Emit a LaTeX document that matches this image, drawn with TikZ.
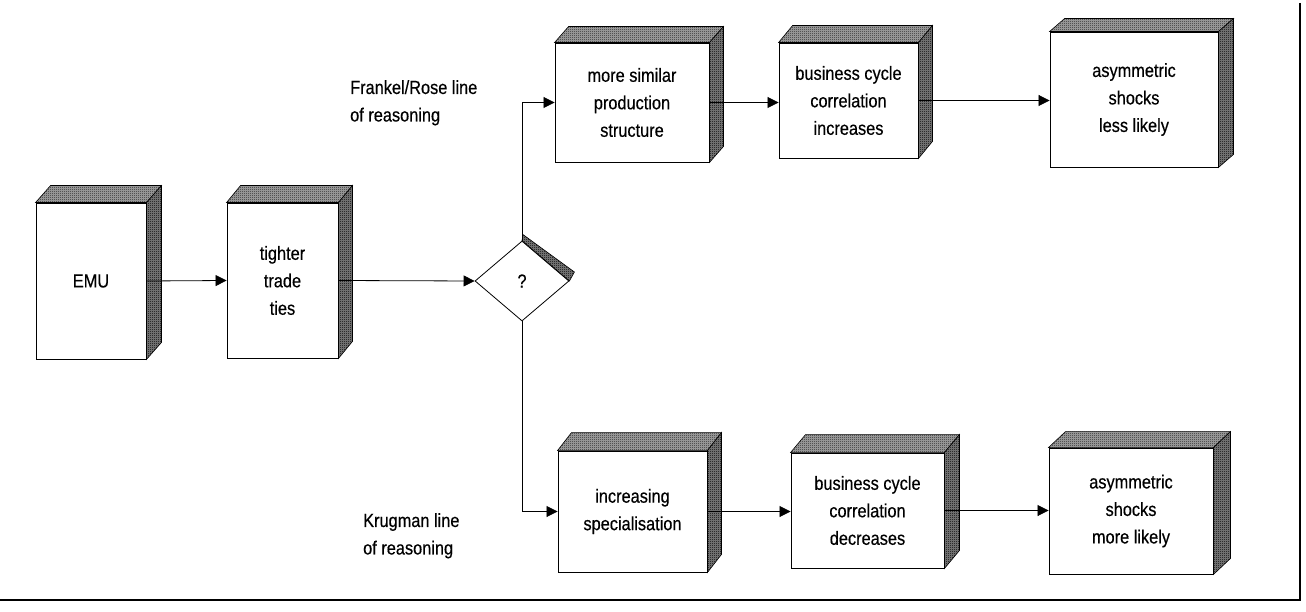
\documentclass[tikz,border=0pt]{standalone}
\usepackage{fontspec}
\setmainfont{Liberation Sans}[FakeStretch=0.86,FakeBold=0.4]
\usetikzlibrary{shapes.geometric,arrows.meta,calc,patterns}
\pgfdeclarepatternformonly{checker}{\pgfpointorigin}{\pgfpoint{2pt}{2pt}}{\pgfpoint{2pt}{2pt}}{%
  \pgfpathrectangle{\pgfpointorigin}{\pgfpoint{1pt}{1pt}}%
  \pgfpathrectangle{\pgfpoint{1pt}{1pt}}{\pgfpoint{1pt}{1pt}}%
  \pgfusepath{fill}}
\newcommand\cubefaces[3]{%
  \draw[topface] (#1.north west) -- ++(#2,-#3) -- ($(#1.north east)+(#2,-#3)$) -- (#1.north east) -- cycle;
  \draw[sideface] (#1.north east) -- ++(#2,-#3) -- ($(#1.south east)+(#2,-#3)$) -- (#1.south east) -- cycle;}
\begin{document}
\begin{tikzpicture}[x=1pt,y=-1pt,
  font=\fontsize{19}{27.5}\selectfont,
  box/.style={draw, fill=white, align=center, inner sep=0pt, line width=0.9pt},
  conn/.style={line width=0.8pt, -{Triangle[length=11pt,width=11pt]}},
  topface/.style={draw, line width=0.6pt, preaction={fill=black!35}, pattern=checker, pattern color=black!85},
  sideface/.style={draw, line width=0.6pt, preaction={fill=black!50}, pattern=checker, pattern color=black},
  lbl/.style={anchor=north west, align=left, inner sep=0pt}]
\useasboundingbox[fill=white] (0,0) rectangle (1306,612);
% boxes
\node[box, minimum width=110pt, minimum height=156pt] (emu) at (91,281) {EMU};
\node[box, minimum width=111pt, minimum height=155pt] (ttt) at (282.5,280.5) {tighter\\trade\\ties};
\node[box, minimum width=154pt, minimum height=119pt] (t1) at (632,102.5) {more similar\\production\\structure};
\node[box, minimum width=139pt, minimum height=115pt] (t2) at (848.5,100.5) {business cycle\\correlation\\increases};
\node[box, minimum width=168pt, minimum height=135pt] (t3) at (1134,99.5) {asymmetric\\shocks\\less likely};
\node[box, minimum width=149pt, minimum height=121pt] (b1) at (632.5,511.5) {increasing\\specialisation};
\node[box, minimum width=153pt, minimum height=115pt] (b2) at (867.5,510.5) {business cycle\\correlation\\decreases};
\node[box, minimum width=164pt, minimum height=126pt] (b3) at (1131,511) {asymmetric\\shocks\\more likely};
\node[diamond, draw, fill=white, minimum width=94pt, minimum height=80pt, inner sep=0pt, line width=0.8pt] (q) at (522,281) {?};
% 3D faces
\cubefaces{emu}{15}{17}
\cubefaces{ttt}{14}{17}
\cubefaces{t1}{14}{16}
\cubefaces{t2}{14}{17}
\cubefaces{t3}{15}{13}
\cubefaces{b1}{14}{18}
\cubefaces{b2}{15}{18}
\cubefaces{b3}{17}{16}
\draw[sideface] (q.north) -- ++(1,-6) -- ($(q.east)+(5,-9)$) -- (q.east) -- cycle;
% labels
\node[lbl] (lfr) at (350,80) {Frankel/Rose line\\of reasoning};
\node[lbl] (lkr) at (363,513) {Krugman line\\of reasoning};
% connectors
\draw[conn] (emu.east) -- (ttt.west);
\draw[conn] (ttt.east) -- (q.west);
\draw[conn] (q.north) |- (t1.west);
\draw[conn] (q.south) |- (b1.west);
\draw[conn] (t1.east) -- (t1.east -| t2.west);
\draw[conn] (t2.east) -- (t2.east -| t3.west);
\draw[conn] (b1.east) -- (b1.east -| b2.west);
\draw[conn] (b2.east) -- (b2.east -| b3.west);
% frame
\draw[line width=2pt] (1300,3) -- (1300,600) -- (0,600);
\end{tikzpicture}
\end{document}
